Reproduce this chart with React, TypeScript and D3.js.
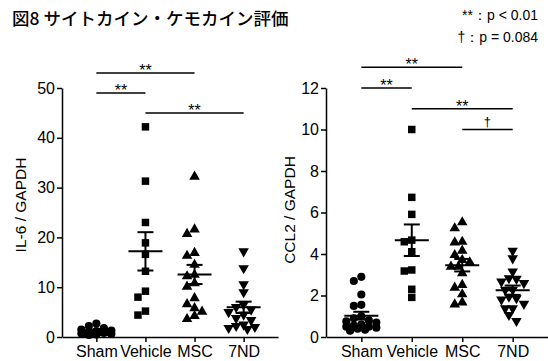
import React, { useRef, useEffect } from 'react';
import * as d3 from 'd3';

const groups = ['Sham', 'Vehicle', 'MSC', '7ND'];

// IL-6 / GAPDH
const il6Sham = [0.4, 0.5, 0.6, 0.7, 0.8, 0.8, 0.9, 1.0, 1.0, 1.1, 1.2, 1.3, 1.5, 1.8, 2.2, 2.7];
const il6Vehicle = [42.2, 31.3, 23.0, 18.9, 16.6, 13.2, 9.2, 8.0, 5.2, 4.4];
const il6Msc = [32.2, 21.6, 20.7, 16.9, 16.3, 14.5, 12.5, 12.2, 10.8, 10.1, 7.8, 6.6, 5.8, 5.1, 4.2, 3.6];
const il6Nd = [17.2, 13.8, 10.6, 9.0, 6.5, 6.0, 5.5, 5.0, 4.5, 3.8, 3.4, 2.5, 2.0, 1.8, 1.6, 2.2];
const il6Ticks = [0, 10, 20, 30, 40, 50];

// CCL2 / GAPDH
const ccl2Sham = [2.9, 2.7, 2.05, 1.55, 1.5, 1.0, 0.9, 0.8, 0.75, 0.7, 0.6, 0.55, 0.5, 0.45, 0.4, 0.35, 0.3, 0.5];
const ccl2Vehicle = [10.0, 6.73, 5.91, 4.67, 4.59, 4.11, 3.18, 3.23, 2.3, 1.91];
const ccl2Msc = [5.53, 5.24, 4.59, 4.56, 4.16, 3.95, 3.71, 3.6, 3.39, 3.39, 3.07, 2.51, 2.38, 2.06, 1.57, 1.67];
const ccl2Nd = [4.16, 3.79, 3.15, 2.8, 2.83, 2.67, 2.6, 2.27, 2.27, 1.94, 1.87, 1.8, 1.6, 1.38, 1.38, 1.06, 0.77];
const ccl2Ticks = [0, 2, 4, 6, 8, 10, 12];

// [from group, to group, level (data units), label]
const il6Sig: [string, string, number, string][] = [
  ['Sham', 'MSC', 53, '**'],
  ['Sham', 'Vehicle', 49, '**'],
  ['Vehicle', '7ND', 45, '**'],
];
const ccl2Sig: [string, string, number, string][] = [
  ['Sham', 'MSC', 13, '**'],
  ['Sham', 'Vehicle', 12, '**'],
  ['Vehicle', '7ND', 11, '**'],
  ['MSC', '7ND', 10, '†'],
];

const shapes = [d3.symbolCircle, d3.symbolSquare, d3.symbolTriangle, d3.symbolTriangle];
const sizes = [52, 56, 48, 48];

const FONT = '"Liberation Sans", Arial, sans-serif';

// spread points sideways where they collide, but never beyond maxOff
function swarm(values: number[], y: (v: number) => number, d: number, maxOff: number) {
  const placed: { x: number; y: number }[] = [];
  const out: number[] = new Array(values.length).fill(0);
  const order = values.map((v, i) => ({ v, i })).sort((a, b) => b.v - a.v);
  const step = d * 0.5;
  const cands: number[] = [0];
  for (let k = 1; k * step <= maxOff; k++) cands.push(-k * step, k * step);
  for (const { v, i } of order) {
    const py = y(v);
    let best = 0;
    let bestDist = -1;
    for (const c of cands) {
      const md = placed.length
        ? Math.min(...placed.map(p => Math.hypot(p.x - c, p.y - py)))
        : Infinity;
      if (md >= d) { best = c; bestDist = md; break; }
      if (md > bestDist) { bestDist = md; best = c; }
    }
    placed.push({ x: best, y: py });
    out[i] = best;
  }
  return out;
}

interface Panel {
  left: number;
  right: number;
  max: number;
  ticks: number[];
  data: number[][];
  label: string;
  labelX: number;
  labelY: number;
  sig: [string, string, number, string][];
}

const panels: Panel[] = [
  { left: 62, right: 278, max: 50, ticks: il6Ticks, data: [il6Sham, il6Vehicle, il6Msc, il6Nd], label: 'IL-6 / GAPDH', labelX: 20, labelY: 205, sig: il6Sig },
  { left: 326, right: 548, max: 12, ticks: ccl2Ticks, data: [ccl2Sham, ccl2Vehicle, ccl2Msc, ccl2Nd], label: 'CCL2 / GAPDH', labelX: 289, labelY: 210, sig: ccl2Sig },
];

const top = 88;
const bottom = 337;

const App: React.FC = () => {
  const svgRef = useRef<SVGSVGElement | null>(null);

  useEffect(() => {
    const svg = d3.select(svgRef.current);
    svg.selectAll('*').remove();

    svg.append('text')
      .attr('x', 12)
      .attr('y', 25)
      .style('font-family', '"Noto Sans CJK JP", sans-serif')
      .style('font-size', '17.5px')
      .style('font-weight', 500)
      .text('図8 サイトカイン・ケモカイン評価');

    svg.append('text')
      .attr('x', 538)
      .attr('y', 20)
      .attr('text-anchor', 'end')
      .style('font-family', FONT)
      .style('font-size', '14px')
      .text('**：p < 0.01');
    svg.append('text')
      .attr('x', 538)
      .attr('y', 42)
      .attr('text-anchor', 'end')
      .style('font-family', FONT)
      .style('font-size', '14px')
      .text('†：p = 0.084');

    panels.forEach(p => {
      const g = svg.append('g');
      const x = d3.scalePoint<string>().domain(groups).range([p.left, p.right]).padding(0.7);
      const y = d3.scaleLinear().domain([0, p.max]).range([bottom, top]);

      const yAxis = g.append('g')
        .attr('transform', `translate(${p.left},0)`)
        .call(d3.axisLeft(y).tickValues(p.ticks).tickSize(5).tickSizeOuter(0).tickPadding(2));
      const xAxis = g.append('g')
        .attr('transform', `translate(0,${bottom})`)
        .call(d3.axisBottom(x).tickSize(5).tickSizeOuter(0).tickPadding(4));
      [yAxis, xAxis].forEach(a => {
        a.selectAll('path, line').attr('stroke', '#000').attr('stroke-width', 1.5);
        a.selectAll('text')
          .attr('fill', '#000')
          .style('font-family', FONT)
          .style('font-size', '16px');
      });

      g.append('text')
        .attr('transform', `translate(${p.labelX},${p.labelY}) rotate(-90)`)
        .attr('text-anchor', 'middle')
        .attr('dominant-baseline', 'central')
        .style('font-family', FONT)
        .style('font-size', '15.5px')
        .text(p.label);

      p.data.forEach((vals, gi) => {
        const cx = x(groups[gi])!;
        const offs = swarm(vals, y, 7.5, 16);
        const sym = d3.symbol().type(shapes[gi]).size(sizes[gi]);
        g.selectAll(null)
          .data(vals)
          .enter()
          .append('path')
          .attr('d', sym)
          .attr('transform', (v, i) =>
            `translate(${cx + offs[i]},${y(v)})${gi === 3 ? ' rotate(180)' : ''}`)
          .attr('fill', '#000');

        const mean = d3.mean(vals)!;
        const sem = d3.deviation(vals)! / Math.sqrt(vals.length);
        const eb = g.append('g').attr('stroke', '#000').attr('stroke-width', 2);
        eb.append('line').attr('x1', cx - 17).attr('x2', cx + 17).attr('y1', y(mean)).attr('y2', y(mean));
        eb.append('line').attr('x1', cx).attr('x2', cx).attr('y1', y(mean - sem)).attr('y2', y(mean + sem));
        [mean - sem, mean + sem].forEach(v => {
          eb.append('line').attr('x1', cx - 8).attr('x2', cx + 8).attr('y1', y(v)).attr('y2', y(v));
        });
      });

      p.sig.forEach(([a, b, lvl, lab]) => {
        const ly = y(lvl);
        g.append('line')
          .attr('x1', x(a)!).attr('x2', x(b)!)
          .attr('y1', ly).attr('y2', ly)
          .attr('stroke', '#000').attr('stroke-width', 1.5);
        g.append('text')
          .attr('x', (x(a)! + x(b)!) / 2)
          .attr('y', lab === '†' ? ly - 4 : ly + 3)
          .attr('text-anchor', 'middle')
          .style('font-family', FONT)
          .style('font-size', lab === '†' ? '13px' : '16px')
          .text(lab);
      });
    });
  }, []);

  return (
    <svg
      ref={svgRef}
      width={548}
      height={361}
      style={{ position: 'absolute', left: 0, top: 0, background: '#fff' }}
    />
  );
};

export default App;
